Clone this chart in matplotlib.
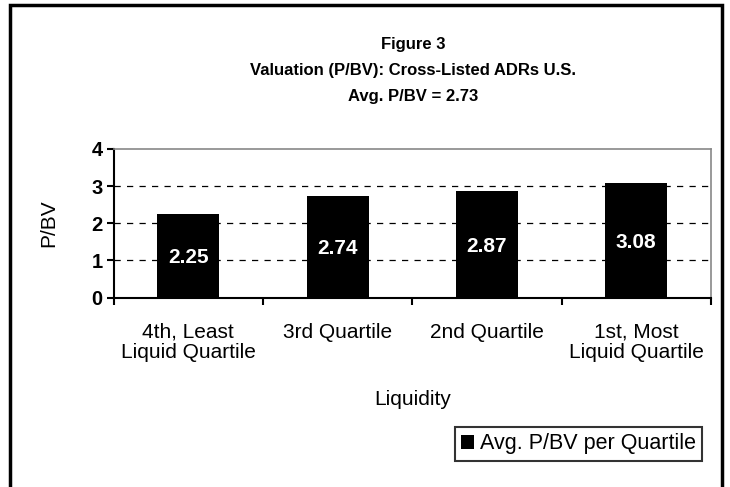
import matplotlib
matplotlib.use("Agg")
import matplotlib.pyplot as plt
from matplotlib.patches import Rectangle

plt.rcParams['font.family'] = ['Liberation Sans', 'DejaVu Sans']

categories = ["4th, Least\nLiquid Quartile", "3rd Quartile", "2nd Quartile", "1st, Most\nLiquid Quartile"]
values = [2.25, 2.74, 2.87, 3.08]
yticks = [0, 1, 2, 3, 4]
series_name = "Avg. P/BV per Quartile"
title_lines = ["Figure 3", "Valuation (P/BV): Cross-Listed ADRs U.S.", "Avg. P/BV = 2.73"]

fig = plt.figure(figsize=(7.3, 4.87), dpi=100)
L, R, T, B = 113.5, 711, 149, 297.5
ax = fig.add_axes([L/730, 1-B/487, (R-L)/730, (B-T)/487])

x = list(range(len(categories)))
bars = ax.bar(x, values, width=0.415, color='black', label=series_name, zorder=3)
for xi, v in zip(x, values):
    ax.text(xi, v/2, f"{v:.2f}", color='white', fontweight='bold', fontsize=15,
            ha='center', va='center_baseline', zorder=4)

ax.set_xlim(-0.5, len(categories)-0.5)
ax.set_ylim(0, 4)
ax.set_yticks(yticks)
ax.set_yticklabels([str(t) for t in yticks], fontweight='bold', fontsize=14.5)
for t in [1, 2, 3]:
    ax.axhline(t, color='black', linestyle=(0, (5, 5)), linewidth=0.9, zorder=1)

ax.set_xticks([i - 0.5 for i in range(len(categories)+1)])
ax.set_xticklabels([])
ax.set_xticks(x, minor=True)
ax.set_xticklabels(categories, minor=True, fontsize=15, linespacing=1.12)
ax.tick_params(axis='x', which='minor', length=0, pad=18)
ax.tick_params(axis='x', which='major', length=5, width=1.5, direction='out')
ax.tick_params(axis='y', length=5, width=1.5, direction='out', pad=3)

ax.spines['left'].set_linewidth(1.5)
ax.spines['bottom'].set_linewidth(1.5)
ax.spines['top'].set_color('#888888')
ax.spines['right'].set_color('#888888')
ax.spines['top'].set_linewidth(1.2)
ax.spines['right'].set_linewidth(1.2)

ax.set_ylabel("P/BV", fontsize=15, labelpad=24)
ax.set_xlabel("Liquidity", fontsize=15, labelpad=20)

for yy, line in zip([45, 70, 96], title_lines):
    fig.text(413.5/730, 1-yy/487, line, ha='center', va='center', fontweight='bold',
             fontsize=12)

leg = fig.legend(handles=[bars], labels=[series_name], loc='upper left',
                 bbox_to_anchor=(455/730, 1-427/487), fontsize=15.5, frameon=True,
                 fancybox=False, edgecolor='black', handlelength=0.6, handleheight=0.6,
                 handletextpad=0.25, borderpad=0.3, borderaxespad=0)
leg.get_frame().set_linewidth(1.5)

fig.patches.append(Rectangle((9.5/730, -0.1), (722-9.5)/730, 1.1 - 4.5/487, transform=fig.transFigure,
                             fill=False, edgecolor='black', linewidth=2.5))

fig.savefig("out.png", dpi=100)
